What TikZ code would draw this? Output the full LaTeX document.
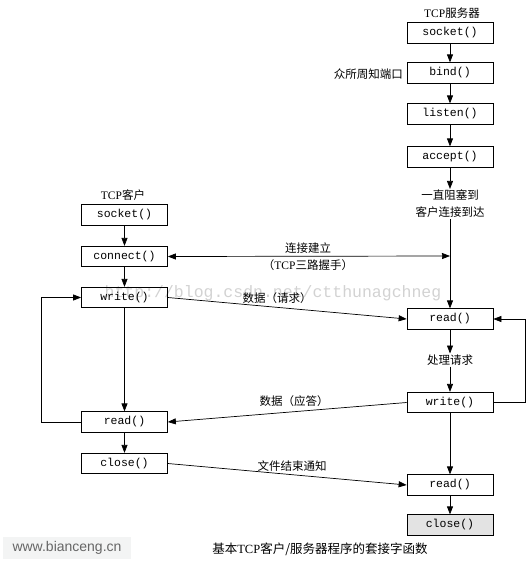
\documentclass[tikz,border=0pt]{standalone}
\usepackage{fontspec}
\setmainfont{Liberation Serif}
\setmonofont{Liberation Mono}
\newfontfamily\cjk{Noto Sans CJK SC}
\newfontfamily\wmfont{Liberation Sans}
\usetikzlibrary{arrows.meta}
\begin{document}
\begin{tikzpicture}[x=1pt,y=-1pt,
  fn/.style={draw, line width=0.7pt, minimum width=86pt, minimum height=20.5pt, inner sep=0pt,
    font=\fontsize{11.5}{12}\ttfamily},
  lbl/.style={font=\fontsize{11.5}{13}\cjk, inner sep=1pt},
  conn/.style={line width=0.7pt, -{Triangle[length=8pt,width=6pt]}},
  plain/.style={line width=0.7pt}
]
\useasboundingbox (0,0) rectangle (531,563);
% watermarks
\node[font=\fontsize{16.5}{17}\ttfamily, text=gray!35, inner sep=0pt] (wm) at (273,293) {http://blog.csdn.net/ctthunagchneg};
\node[fill=cyan!4!gray!10, text=gray!80!black, font=\fontsize{14}{15}\wmfont, minimum width=128pt, minimum height=22pt, inner sep=0pt] (site) at (67,548) {www.bianceng.cn};
% server column
\node[lbl] (shead) at (452,13) {{\rmfamily TCP}服务器};
\node[fn] (ssock) at (450,33) {socket()};
\node[fn] (sbind) at (450,73) {bind()};
\node[lbl, anchor=east] (port) at (404,74) {众所周知端口};
\node[fn] (slisten) at (450,114) {listen()};
\node[fn] (saccept) at (450,157) {accept()};
\node[lbl, align=center, font=\fontsize{11.5}{17}\cjk] (block) at (450,204) {一直阻塞到\\客户连接到达};
\coordinate (sconn) at (450,256);
\node[fn] (sread) at (450,319) {read()};
\node[lbl] (proc) at (450,360) {处理请求};
\node[fn] (swrite) at (450,402.5) {write()};
\node[fn] (sread2) at (450,485) {read()};
\node[fn, fill=gray!22] (sclose) at (450,525) {close()};
% client column
\node[lbl] (chead) at (123,195) {{\rmfamily TCP}客户};
\node[fn] (csock) at (124.5,215) {socket()};
\node[fn] (cconn) at (124.5,256.5) {connect()};
\node[fn] (cwrite) at (124.5,297.5) {write()};
\node[fn] (cread) at (124.5,422) {read()};
\node[fn] (cclose) at (124.5,463.5) {close()};
% server arrows
\draw[conn] (ssock) -- (sbind);
\draw[conn] (sbind) -- (slisten);
\draw[conn] (slisten) -- (saccept);
\draw[conn] (saccept) -- (block);
\draw[conn] (block) -- (sread);
\draw[conn] (sread) -- (proc);
\draw[conn] (proc) -- (swrite);
\draw[conn] (swrite) -- (sread2);
\draw[conn] (sread2) -- (sclose);
\draw[conn] (swrite.east) -- ++(32,0) |- (sread.east);
% client arrows
\draw[conn] (csock) -- (cconn);
\draw[conn] (cconn) -- (cwrite);
\draw[conn] (cwrite) -- (cread);
\draw[conn] (cread) -- (cclose);
\draw[conn] (cread.west) -- ++(-40,0) |- (cwrite.west);
% exchanges
\draw[line width=0.7pt, {Triangle[length=8pt,width=6pt]}-{Triangle[length=8pt,width=6pt]}] (cconn.east) -- (sconn);
\node[lbl] (est) at (308,248) {连接建立};
\node[lbl] (hs) at (308,265) {（{\rmfamily TCP}三路握手）};
\draw[conn] (cwrite.east) -- (sread.west);
\node[lbl] (req) at (277,298) {数据（请求）};
\draw[conn] (swrite.west) -- (cread.east);
\node[lbl] (resp) at (294,401) {数据（应答）};
\draw[conn] (cclose.east) -- (sread2.west);
\node[lbl] (eof) at (292,466) {文件结束通知};
% caption
\node[font=\fontsize{12.5}{14}\cjk] (cap) at (320,549) {基本{\rmfamily TCP}客户/服务器程序的套接字函数};
\end{tikzpicture}
\end{document}
